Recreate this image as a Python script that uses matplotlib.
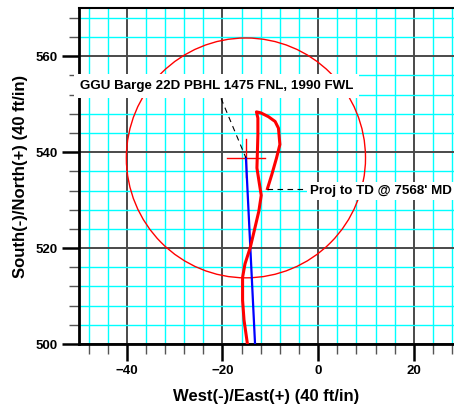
import matplotlib.pyplot as plt
from matplotlib.patches import Circle
from matplotlib.ticker import MultipleLocator

plt.rcParams['font.family'] = ['Liberation Sans', 'DejaVu Sans']
plt.rcParams['font.weight'] = 'bold'

# actual survey (East-West, North-South) in ft
survey_ew = [-14.8, -15.5, -15.8, -15.8, -15.3, -14.2, -13.2, -12.4, -11.9, -12.3,
             -12.8, -12.7, -12.6, -12.6, -12.9, -12.0, -10.4, -9.0, -8.3, -8.0,
             -8.7, -9.7, -10.6]
survey_ns = [500.1, 505.0, 509.1, 513.9, 516.7, 520.1, 524.3, 527.7, 531.0, 533.5,
             536.7, 540.1, 543.6, 547.1, 548.4, 548.2, 547.4, 546.4, 545.0, 541.6,
             538.8, 535.3, 532.4]

# planned path
plan_ew = [-13.2, -15.1]
plan_ns = [500.1, 538.8]

# target
target_ew = -15.1
target_ns = 538.8
target_radius = 25.0
cross_arm = 4.0

label_target = "GGU Barge 22D PBHL 1475 FNL, 1990 FWL"
label_td = "Proj to TD @ 7568' MD"

fig = plt.figure(figsize=(4.54, 4.13), dpi=100)
ax = fig.add_axes([0.174, 0.167, 0.826, 0.813])

ax.set_xlim(-50, 28.4)
ax.set_ylim(500, 570)

ax.xaxis.set_major_locator(MultipleLocator(20))
ax.xaxis.set_minor_locator(MultipleLocator(4))
ax.yaxis.set_major_locator(MultipleLocator(20))
ax.yaxis.set_minor_locator(MultipleLocator(4))

ax.grid(which='minor', color='#00ffff', linewidth=1.0, zorder=0)
ax.grid(which='major', color='#4a4a4a', linewidth=1.4, zorder=0)
ax.set_axisbelow(True)

ax.tick_params(which='major', direction='out', length=12, width=1.8,
               color='black', labelsize=9.5, pad=3)
ax.tick_params(which='minor', direction='out', length=7, width=1.0,
               color='#555555')
for lab in ax.get_xticklabels() + ax.get_yticklabels():
    lab.set_fontweight('bold')

for s in ['left', 'bottom']:
    ax.spines[s].set_linewidth(2)
ax.spines['top'].set_linewidth(1.5)
ax.spines['right'].set_visible(False)

# target circle and cross
ax.add_patch(Circle((target_ew, target_ns), target_radius, fill=False,
                    edgecolor='red', linewidth=1.0, zorder=3))
ax.plot([target_ew - cross_arm, target_ew + cross_arm], [target_ns, target_ns],
        color='red', linewidth=1.0, zorder=3)
ax.plot([target_ew, target_ew], [target_ns - cross_arm, target_ns + cross_arm],
        color='red', linewidth=1.0, zorder=3)

ax.plot(plan_ew, plan_ns, color='blue', linewidth=1.6, zorder=4)
ax.plot(survey_ew, survey_ns, color='red', linewidth=2.2, zorder=5)

# labels with leader lines
ax.plot([-20.3, target_ew], [551.2, target_ns], color='black', linewidth=0.8,
        linestyle=(0, (5, 4)), zorder=6)
ax.text(-49.8, 553.8, label_target, fontsize=9.6, fontweight='bold',
        ha='left', va='center', clip_on=False, zorder=7,
        bbox=dict(facecolor='white', edgecolor='none', pad=4))

ax.plot([survey_ew[-1], -2.0], [survey_ns[-1], survey_ns[-1]], color='black',
        linewidth=0.8, linestyle=(0, (5, 4)), zorder=6)
ax.text(-1.7, 531.9, label_td, fontsize=9.6, fontweight='bold',
        ha='left', va='center', clip_on=False, zorder=7,
        bbox=dict(facecolor='white', edgecolor='none', pad=2))

ax.set_xlabel('West(-)/East(+) (40 ft/in)', fontsize=12, fontweight='bold',
              labelpad=9)
ax.set_ylabel('South(-)/North(+) (40 ft/in)', fontsize=12, fontweight='bold',
              labelpad=6)

fig.savefig('out.png', dpi=100)
